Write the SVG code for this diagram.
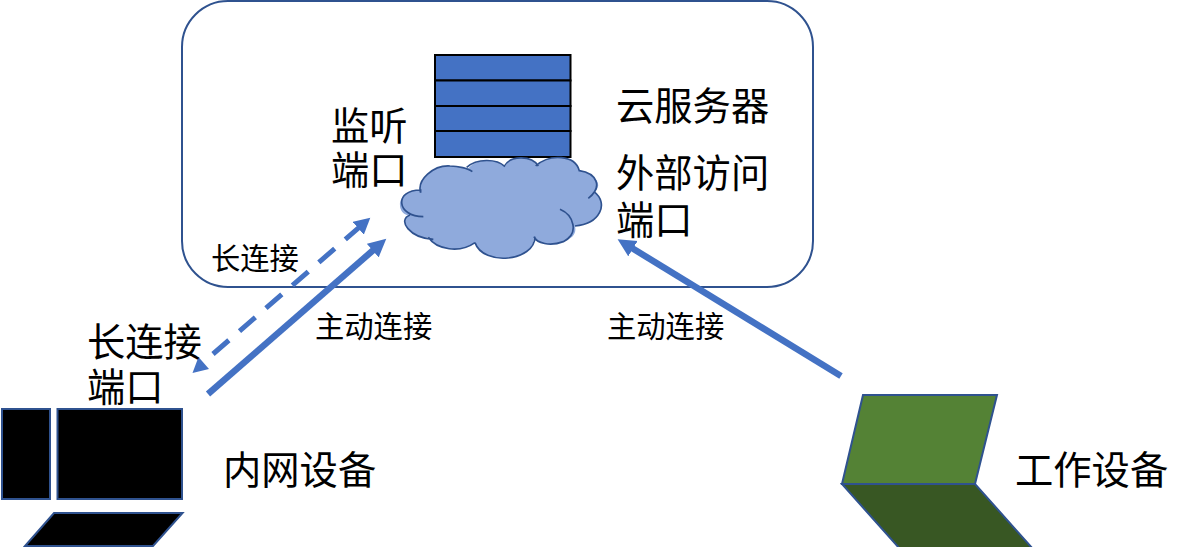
<svg xmlns="http://www.w3.org/2000/svg" width="1191" height="547" viewBox="0 0 1191 547">
<style>
.t{font-family:"Noto Sans CJK SC","Liberation Sans",sans-serif;fill:#000}
.l{font-size:38.300px}
.s{font-size:29.300px}
.edge{stroke:#2f528f;stroke-width:2}
.conn{fill:none;stroke:#4472c4}
</style>
<defs>
<marker id="a1" markerUnits="userSpaceOnUse" markerWidth="20" markerHeight="20" refX="7" refY="9" orient="auto"><path d="M0 0L18 9L0 18Z" fill="#4472c4"/></marker>
<marker id="a2" markerUnits="userSpaceOnUse" markerWidth="18" markerHeight="18" refX="5" refY="8.500" orient="auto"><path d="M0 0L16 8.500L0 17Z" fill="#4472c4"/></marker>
</defs>
<g id="cloud-server">
<rect class="edge" x="182" y="1" width="631" height="286" rx="46" fill="#fff"/>
<g id="server" fill="#4472c4" stroke="#000" stroke-width="2">
<rect x="435" y="55" width="135.500" height="25.500"/>
<rect x="435" y="80.500" width="135.500" height="25.500"/>
<rect x="435" y="106" width="135.500" height="25"/>
<rect x="435" y="131" width="135.500" height="26"/>
</g>
<g id="cloud" transform="translate(390 40) scale(.3333)">
<path fill="#8faadc" d="M92 458C80 420 130 375 180 378C205 378 230 385 235 385C260 355 320 355 345 380C360 345 425 345 440 378C480 340 555 345 568 392C620 400 640 440 612 455C658 490 630 552 555 558C560 580 550 595 520 605C480 620 440 610 432 590C434 665 280 680 255 608C210 640 140 630 115 592C60 595 20 540 60 525C20 530 10 450 92 450Z"/>
<path fill="none" stroke="#2f528f" stroke-width="5" d="M92 458C80 420 130 375 180 378C205 378 235 385 247 395M230 382C260 355 320 355 345 380M342 380C360 345 425 345 445 378M437 378C480 340 555 345 568 392C620 400 640 440 595 475M612 455C658 490 630 552 555 558M510 508C550 525 570 580 520 605C480 620 440 610 432 590M435 590C434 665 280 680 255 608M255 608C210 640 140 630 115 592M130 598C60 595 20 540 60 525M100 530C20 530 10 450 92 450L92 458"/>
</g>
<text class="t l" x="616" y="120">云服务器</text>
<text class="t l" x="616" y="187">外部访问</text>
<text class="t l" x="616" y="234">端口</text>
<text class="t l" x="331" y="140">监听</text>
<text class="t l" x="331" y="184">端口</text>
</g>
<g id="connectors">
<line class="conn" x1="213" y1="354" x2="362" y2="225" stroke-width="5" stroke-dasharray="21 14" marker-end="url(#a2)"/>
<path d="M192.500 373L198.500 357L209 369Z" fill="#4472c4"/>
<line class="conn" x1="208" y1="394" x2="378" y2="246" stroke-width="6.500" marker-end="url(#a1)"/>
<line class="conn" x1="841" y1="376" x2="627" y2="245" stroke-width="6.500" marker-end="url(#a1)"/>
<text class="t s" x="211" y="269">长连接</text>
<text class="t s" x="315" y="337">主动连接</text>
<text class="t s" x="607" y="337">主动连接</text>
</g>
<g id="internal-device">
<rect class="edge" x="2" y="409" width="48" height="90" fill="#000"/>
<rect class="edge" x="57.500" y="409" width="124.500" height="90" fill="#000"/>
<path class="edge" d="M54 513H182.500L153 546H25Z" fill="#000"/>
<text class="t l" x="87" y="356">长连接</text>
<text class="t l" x="87" y="401">端口</text>
<text class="t l" x="223" y="484">内网设备</text>
</g>
<g id="work-device">
<path class="edge" d="M863 395H997L975 484H842Z" fill="#548235"/>
<path class="edge" d="M842 484H975L1033 549H900Z" fill="#385723"/>
<text class="t l" x="1015" y="484">工作设备</text>
</g>
</svg>
